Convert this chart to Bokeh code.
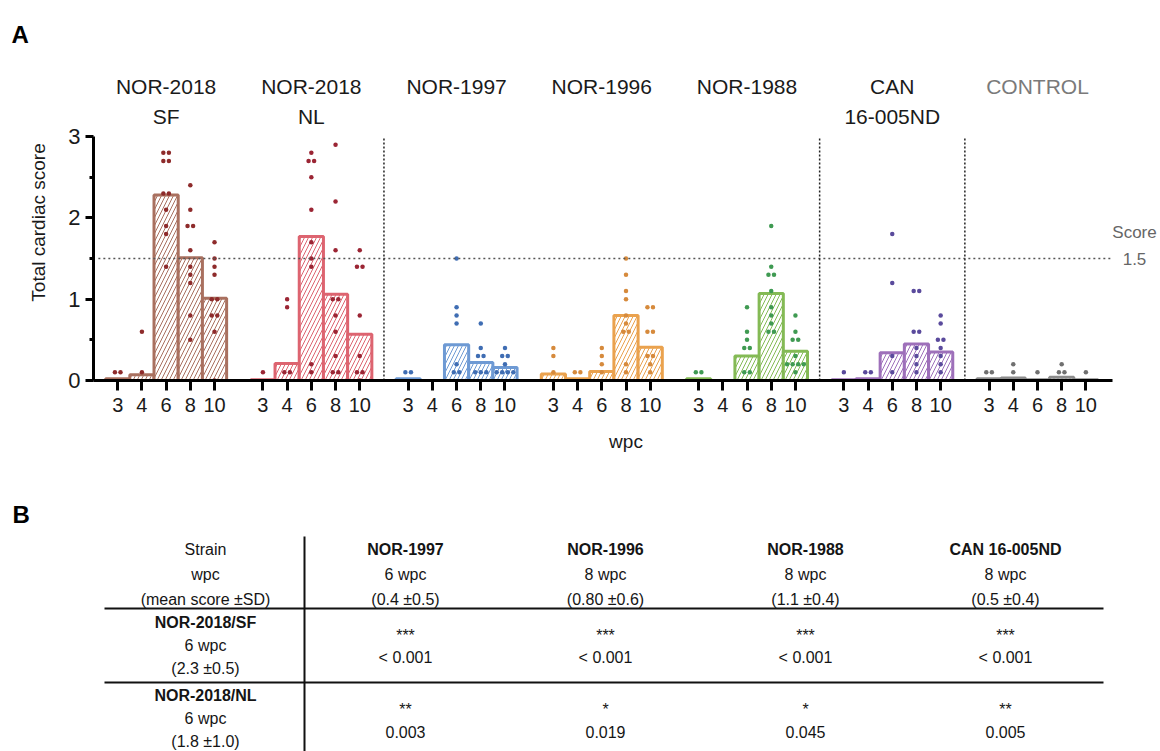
import collections
from bokeh.plotting import figure
from bokeh.models import Range1d, FixedTicker
from bokeh.layouts import column
from bokeh.core.properties import value
from bokeh.embed import file_html
from bokeh.resources import INLINE

FONT = "Liberation Sans"

# ---------------- data: panel A ----------------
group_line1 = ["NOR-2018", "NOR-2018", "NOR-1997", "NOR-1996", "NOR-1988", "CAN", "CONTROL"]
group_line2 = ["SF", "NL", "", "", "", "16-005ND", ""]
wpc_labels = ["3", "4", "6", "8", "10"]

mean_sf = [0.02, 0.07, 2.28, 1.51, 1.01]
mean_nl = [0.01, 0.21, 1.77, 1.06, 0.57]
mean_1997 = [0.02, 0.0, 0.44, 0.22, 0.16]
mean_1996 = [0.08, 0.02, 0.11, 0.80, 0.41]
mean_1988 = [0.02, 0.0, 0.30, 1.07, 0.36]
mean_can = [0.01, 0.02, 0.34, 0.45, 0.35]
mean_ctrl = [0.02, 0.03, 0.01, 0.04, 0.01]

pts_sf = [[0.1, 0.1], [0.6, 0.1],
          [2.8, 2.8, 2.7, 2.7, 2.3, 2.3, 2.1, 1.9, 1.8, 1.4],
          [2.4, 2.1, 1.9, 1.9, 1.6, 1.4, 1.3, 1.2, 0.8, 0.5],
          [1.7, 1.5, 1.4, 1.3, 1.0, 1.0, 0.8, 0.8, 0.6, 0.0]]
pts_nl = [[0.1], [1.0, 0.9, 0.1, 0.1],
          [2.8, 2.7, 2.7, 2.5, 2.1, 1.7, 1.5, 1.4, 0.2, 0.1],
          [2.9, 2.2, 1.6, 1.0, 1.0, 0.8, 0.6, 0.3, 0.1, 0.1],
          [1.6, 1.4, 1.4, 0.8, 0.3, 0.1, 0.1, 0.0]]
pts_1997 = [[0.1, 0.1], [],
            [1.5, 0.9, 0.8, 0.7, 0.2, 0.1, 0.1],
            [0.7, 0.4, 0.3, 0.3, 0.1, 0.1, 0.1],
            [0.4, 0.3, 0.3, 0.2, 0.1, 0.1, 0.1, 0.1]]
pts_1996 = [[0.4, 0.3, 0.1], [0.1, 0.1],
            [0.4, 0.3, 0.2, 0.1],
            [1.5, 1.3, 1.1, 1.0, 0.8, 0.7, 0.6, 0.6, 0.2, 0.1],
            [0.9, 0.9, 0.6, 0.6, 0.3, 0.3, 0.2, 0.1]]
pts_1988 = [[0.1, 0.1], [],
            [0.9, 0.6, 0.5, 0.4, 0.4, 0.1, 0.1],
            [1.9, 1.4, 1.3, 1.3, 1.1, 0.9, 0.8, 0.7, 0.6, 0.6],
            [0.8, 0.6, 0.5, 0.5, 0.3, 0.2, 0.2, 0.2, 0.2, 0.1]]
pts_can = [[0.1], [0.1, 0.1],
           [1.8, 1.2, 0.3, 0.1],
           [1.1, 1.1, 0.6, 0.6, 0.4, 0.3, 0.2, 0.1],
           [0.8, 0.7, 0.5, 0.5, 0.4, 0.3, 0.2, 0.1]]
pts_ctrl = [[0.1, 0.1], [0.2, 0.1], [0.1], [0.2, 0.1, 0.1], [0.1]]

bar_colors = ["#a9705f", "#dd6470", "#6e9ad4", "#eaa24e", "#84ba55", "#9e70ba", "#8c8c8c"]
dot_colors = ["#8e2b2b", "#9b2534", "#3f6db3", "#d68a3c", "#3f9a52", "#5a4a9c", "#707070"]
label_colors = ["#1a1a1a"] * 6 + ["#7a7a7a"]
sep_after = [1, 4, 5]
threshold = 1.5
y_max = 3

# ---------------- data: panel B ----------------
col_head = ["Strain", "NOR-1997", "NOR-1996", "NOR-1988", "CAN 16-005ND"]
col_wpc = ["wpc", "6 wpc", "8 wpc", "8 wpc", "8 wpc"]
col_mean = ["(mean score \u00b1SD)", "(0.4 \u00b10.5)", "(0.80 \u00b10.6)", "(1.1 \u00b10.4)", "(0.5 \u00b10.4)"]
row_head = ["NOR-2018/SF", "NOR-2018/NL"]
row_wpc = ["6 wpc", "6 wpc"]
row_mean = ["(2.3 \u00b10.5)", "(1.8 \u00b11.0)"]
stars = [["***", "***", "***", "***"], ["**", "*", "*", "**"]]
pvals = [["< 0.001", "< 0.001", "< 0.001", "< 0.001"], ["0.003", "0.019", "0.045", "0.005"]]


def swarm(vals, d=0.23):
    cnt = collections.Counter(vals)
    seen = {}
    out = []
    for v in vals:
        k = cnt[v]
        i = seen.get(v, 0)
        seen[v] = i + 1
        out.append((i - (k - 1) / 2) * d)
    return out


GAP = 6
NW = len(wpc_labels)
means = [mean_sf, mean_nl, mean_1997, mean_1996, mean_1988, mean_can, mean_ctrl]
pts = [pts_sf, pts_nl, pts_1997, pts_1996, pts_1988, pts_can, pts_ctrl]

bx, btop, bcol = [], [], []
dx, dy, dcol = [], [], []
tick_pos, tick_over = [], {}
for g in range(len(means)):
    for j in range(NW):
        x = g * GAP + j
        tick_pos.append(x)
        tick_over[x] = wpc_labels[j]
        bx.append(x)
        btop.append(means[g][j])
        bcol.append(bar_colors[g])
        vals = pts[g][j]
        for v, o in zip(vals, swarm(vals)):
            dx.append(x + o)
            dy.append(v)
            dcol.append(dot_colors[g])

# ---------------- geometry ----------------
W = 1158
LEFT = 93                      # frame left (y axis)
XLO = -1.0
XAX_HI = (len(means) - 1) * GAP + NW - 1 + 1.1
XHI = 43.0
FRAME_TOP = 64
FRAME_BOT = 380
PPY = (FRAME_BOT - 136) / y_max          # pixels per score unit
YTOP = (FRAME_BOT - FRAME_TOP) / PPY
H_A = 470
H_B = 281

# ---------------- panel A ----------------
pA = figure(width=W, height=H_A, x_range=Range1d(XLO, XHI), y_range=Range1d(0, YTOP),
            output_backend="svg", toolbar_location=None,
            min_border_left=LEFT, min_border_right=0, min_border_top=FRAME_TOP,
            min_border_bottom=H_A - FRAME_BOT)
pA.outline_line_color = None
pA.grid.visible = False

pA.title.text = "A"
pA.title.align = "left"
pA.title.offset = -(LEFT - 11)
pA.title.standoff = 34
pA.title.text_font = FONT
pA.title.text_font_style = "bold"
pA.title.text_font_size = "24px"
pA.title.text_color = "black"

pA.vbar(x=bx, top=btop, bottom=0, width=1.0, fill_color="white", line_color=bcol, line_width=3,
        hatch_pattern="/", hatch_color=bcol, hatch_scale=8, hatch_weight=1)
pA.scatter(x=dx, y=dy, size=4.5, color=dcol, line_width=0)

pA.segment(x0=[XLO + 0.2], y0=[threshold], x1=[XAX_HI], y1=[threshold],
           line_dash="2 3", line_color="#555555", line_width=1.5)
sep_x = [g * GAP + (NW - 1) + (GAP - NW + 1) / 2 for g in sep_after]
pA.segment(x0=sep_x, y0=[0] * len(sep_x), x1=sep_x, y1=[y_max] * len(sep_x),
           line_dash="2 2", line_color="#222222", line_width=1.5)

for ax in (pA.xaxis, pA.yaxis):
    ax.axis_line_width = 3
    ax.axis_line_color = "black"
    ax.major_tick_line_width = 3
    ax.major_tick_in = 0
    ax.major_label_text_font = FONT
    ax.major_label_text_color = "#1a1a1a"
    ax.axis_label_text_font = FONT
    ax.axis_label_text_font_style = "normal"
    ax.axis_label_text_color = "#1a1a1a"
    ax.axis_label_text_font_size = "19px"

pA.yaxis.ticker = FixedTicker(ticks=[0, 1, 2, 3], minor_ticks=[0.5, 1.5, 2.5])
pA.yaxis.bounds = (0, y_max)
pA.yaxis.major_tick_out = 8
pA.yaxis.minor_tick_out = 4
pA.yaxis.minor_tick_in = 0
pA.yaxis.minor_tick_line_width = 3
pA.yaxis.major_label_text_font_size = "22px"
pA.yaxis.major_label_standoff = 5
pA.yaxis.axis_label = "Total cardiac score"
pA.yaxis.axis_label_standoff = 16

pA.xaxis.ticker = FixedTicker(ticks=tick_pos, minor_ticks=[])
pA.xaxis.major_label_overrides = tick_over
pA.xaxis.bounds = (XLO, XAX_HI)
pA.xaxis.major_tick_out = 10
pA.xaxis.major_label_text_font_size = "20px"
pA.xaxis.major_label_standoff = 7
pA.xaxis.axis_label = "wpc"
pA.xaxis.axis_label_standoff = 16

centers = [g * GAP + (NW - 1) / 2 for g in range(len(means))]
pA.text(x=centers, y=[(FRAME_BOT - 86) / PPY] * len(centers), text=group_line1, text_color=label_colors,
        text_align="center", text_baseline="middle", text_font=value(FONT), text_font_size="21px")
pA.text(x=centers, y=[(FRAME_BOT - 116) / PPY] * len(centers), text=group_line2, text_color=label_colors,
        text_align="center", text_baseline="middle", text_font=value(FONT), text_font_size="21px")

note_x = XLO + (1134 - LEFT) / ((W - LEFT) / (XHI - XLO))
pA.text(x=[note_x, note_x], y=[threshold + 0.32, threshold], text=["Score", "1.5"],
        text_align="center", text_baseline="middle", text_font=value(FONT),
        text_font_size="17px", text_color="#666666")

# ---------------- panel B (table) ----------------
B_TOP = H_A
B_FRAME_TOP = 530
B_BOT = B_TOP + H_B
pB = figure(width=W, height=H_B, x_range=Range1d(LEFT, W), y_range=Range1d(B_BOT, B_FRAME_TOP),
            output_backend="svg", toolbar_location=None,
            min_border_left=LEFT, min_border_right=0, min_border_top=B_FRAME_TOP - B_TOP,
            min_border_bottom=0, x_axis_location=None, y_axis_location=None)
pB.outline_line_color = None
pB.grid.visible = False
pB.title.text = "B"
pB.title.align = "left"
pB.title.offset = -(LEFT - 12)
pB.title.standoff = 5
pB.title.text_font = FONT
pB.title.text_font_style = "bold"
pB.title.text_font_size = "24px"
pB.title.text_color = "black"

tbl_left, tbl_right = 104, 1103
col_cx0, col_step = 205, 200
vline_x = 304
tbl_top = 536
head_y0, head_step = 549, 25
row_lines = [608, 682]
row_off, row_step = 14, 23

pB.segment(x0=[tbl_left] * 2, y0=row_lines, x1=[tbl_right] * 2, y1=row_lines,
           line_color="#111111", line_width=2.2)
pB.segment(x0=[vline_x], y0=[tbl_top], x1=[vline_x], y1=[B_BOT + 20], line_color="#111111", line_width=2)

col_cx = [col_cx0 + i * col_step for i in range(len(col_head))]
common = dict(text_align="center", text_baseline="middle", text_font=value(FONT),
              text_font_size="16px", text_color="#151515")
pB.text(x=col_cx[:1], y=[head_y0], text=col_head[:1], **common)
pB.text(x=col_cx[1:], y=[head_y0] * 4, text=col_head[1:], text_font_style="bold", **common)
pB.text(x=col_cx, y=[head_y0 + head_step] * 5, text=col_wpc, **common)
pB.text(x=col_cx, y=[head_y0 + 2 * head_step] * 5, text=col_mean, **common)

for r in range(len(row_head)):
    y0 = row_lines[r] + row_off - r
    pB.text(x=[col_cx[0]], y=[y0], text=[row_head[r]], text_font_style="bold", **common)
    pB.text(x=[col_cx[0]], y=[y0 + row_step], text=[row_wpc[r]], **common)
    pB.text(x=[col_cx[0]], y=[y0 + 2 * row_step], text=[row_mean[r]], **common)
    yc = row_lines[r] + 37
    pB.text(x=col_cx[1:], y=[yc - 10] * 4, text=stars[r], **common)
    pB.text(x=col_cx[1:], y=[yc + 12] * 4, text=pvals[r], **common)

layout = column(pA, pB, spacing=0)
open("out.html", "w").write(file_html(layout, INLINE))
